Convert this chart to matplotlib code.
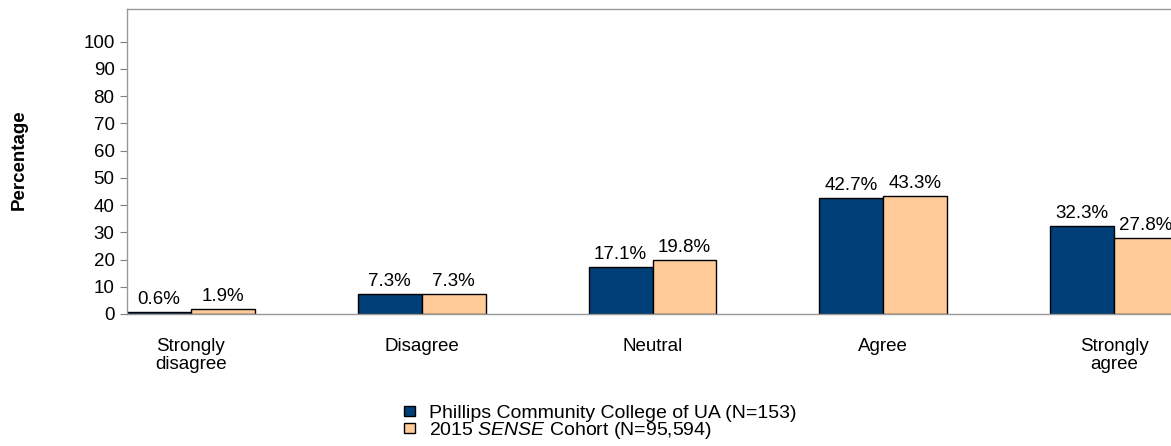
import numpy as np
import matplotlib
matplotlib.use('Agg')
import matplotlib.pyplot as plt

plt.rcParams['font.family'] = ['Liberation Sans', 'DejaVu Sans']
plt.rcParams['mathtext.fontset'] = 'custom'
plt.rcParams['mathtext.rm'] = 'Liberation Sans'
plt.rcParams['mathtext.it'] = 'Liberation Sans:italic'

categories = ['Strongly\ndisagree', 'Disagree', 'Neutral', 'Agree', 'Strongly\nagree']
college = [0.6, 7.3, 17.1, 42.7, 32.3]
cohort = [1.9, 7.3, 19.8, 43.3, 27.8]
series_names = ['Phillips Community College of UA (N=153)',
                r'2015 $\mathit{SENSE}$ Cohort (N=95,594)']

W, H = 1171, 446
fig = plt.figure(figsize=(W/100, H/100), dpi=100)
ax = fig.add_axes([127/W, 1 - 314/H, (1178 - 127)/W, (314 - 9)/H])

fs = 13.5
x = np.arange(len(categories))
bw = 0.277
b1 = ax.bar(x - bw/2, college, bw, color='#003F78', edgecolor='black', lw=1,
            label=series_names[0])
b2 = ax.bar(x + bw/2, cohort, bw, color='#FFCC99', edgecolor='black', lw=1,
            label=series_names[1])
ax.bar_label(b1, labels=[f'{v:.1f}%' for v in college], padding=3, fontsize=fs)
ax.bar_label(b2, labels=[f'{v:.1f}%' for v in cohort], padding=3, fontsize=fs)

ax.set_xlim(-bw, len(categories) - 1 + bw)
ax.set_ylim(0, 112)
ax.set_yticks(np.arange(0, 101, 10))
ax.tick_params(axis='y', direction='out', length=5, color='#808080', labelsize=fs, pad=4)
ax.tick_params(axis='x', length=0, labelsize=fs, pad=17)
ax.set_xticks(x)
ax.set_xticklabels(categories, linespacing=1.1)
for s in ax.spines.values():
    s.set_color('#999999')
    s.set_linewidth(1)

fig.text(19/W, 1 - 160/H, 'Percentage', rotation=90, ha='center', va='center',
         fontsize=fs, fontweight='bold')

fig.legend(handles=[b1, b2], loc='upper left', bbox_to_anchor=(404/W, 1 - 405/H),
           frameon=False, fontsize=14, handlelength=0.55, handleheight=0.42,
           handletextpad=0.75, labelspacing=-0.1, borderpad=0, borderaxespad=0)

fig.savefig('out.png', dpi=100)
